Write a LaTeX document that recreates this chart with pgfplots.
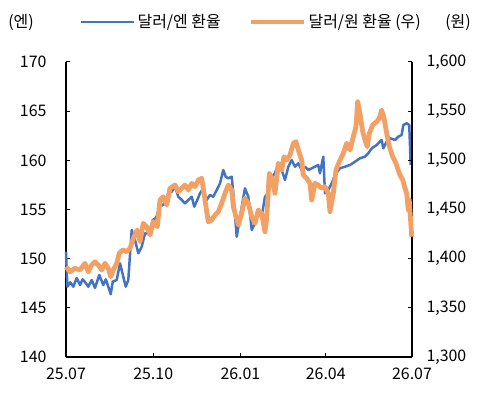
\documentclass[border=0pt]{standalone}
\usepackage{fontspec}
\setmainfont{Noto Sans CJK KR}
\usepackage{pgfplots}
\pgfplotsset{compat=1.18}
\definecolor{usdjpy}{HTML}{4472C4}
\definecolor{usdkrw}{HTML}{F2A064}

% x = days since 2025-07-01
\pgfplotstableread{
d v
0 150.71
1.4 147.15
4.5 147.6
7.7 147.15
11.3 148.03
14.8 147.32
17.5 147.9
20.0 147.63
23.5 147.15
27.1 147.83
30.6 147.02
35.1 148.34
39.3 147.32
42.0 147.9
44.6 147.15
47.2 146.38
49.3 147.66
53.5 147.83
57.0 149.53
60.4 148.17
63.0 147.15
65.7 147.83
69.3 152.92
72.8 151.90
76.3 150.55
79.9 151.22
83.3 152.58
87.9 152.58
91.5 153.93
94.9 154.14
99.2 155.29
104.4 155.63
107.9 156.65
111.5 156.81
115.0 157.32
118.5 156.30
122.1 155.97
125.5 155.63
129.0 155.97
132.6 156.30
135.3 155.29
138.5 155.97
141.4 156.65
144.8 157.16
148.4 155.97
151.9 156.48
155.4 156.30
159.0 156.98
162.5 157.66
165.9 159.02
168.4 158.34
171.2 158.17
174.8 158.34
176.5 156.65
180.1 152.23
183.6 154.27
188.8 157.16
192.3 156.30
195.9 152.92
199.4 153.60
202.9 154.61
206.4 154.27
209.9 156.30
213.4 156.65
217.0 158.34
220.5 158.68
224.0 159.70
227.5 159.02
231.0 158.00
234.5 159.35
238.1 160.03
241.6 159.35
245.1 159.70
248.6 159.02
252.1 159.35
255.6 159.02
259.2 159.19
262.7 159.35
266.1 159.53
267.9 158.68
271.4 160.37
273.2 156.65
276.7 156.98
280.3 157.66
283.8 158.51
289.0 159.19
294.3 159.35
299.6 159.53
304.9 159.86
310.1 160.21
315.4 160.37
318.9 160.72
322.5 161.22
327.8 161.56
333.0 162.07
334.7 161.22
338.3 161.90
341.8 162.24
347.1 162.07
350.5 162.40
354.1 162.58
355.8 163.59
359.4 163.77
362.1 163.59
363.6 159.53
}\usdjpy

\pgfplotstableread{
d v
0 1391.8
4.2 1386.7
9.5 1390.2
14.8 1388.5
20.0 1395.3
23.5 1386.7
27.1 1393.6
30.6 1396.9
34.1 1393.6
37.7 1388.5
41.1 1395.3
44.6 1390.2
47.2 1381.7
49.9 1388.5
53.5 1395.3
56.2 1405.5
59.8 1408.8
64.0 1407.1
67.5 1410.5
71.7 1422.3
75.2 1429.2
78.1 1417.3
81.5 1436.0
85.1 1432.5
88.6 1424.1
92.1 1437.6
96.3 1432.5
99.2 1459.7
102.6 1463.0
106.2 1454.6
109.7 1471.6
115.0 1474.9
118.5 1468.1
122.1 1471.6
125.5 1474.9
129.0 1469.8
132.6 1476.6
136.1 1473.2
139.6 1480.0
143.2 1481.7
146.6 1459.7
150.1 1437.6
153.7 1439.3
157.2 1444.4
160.7 1447.8
164.2 1456.3
167.7 1466.5
171.2 1474.9
174.8 1469.8
176.5 1452.9
181.8 1434.2
185.3 1446.1
188.8 1461.4
192.3 1456.3
195.9 1442.7
199.4 1436.0
202.9 1449.5
206.4 1446.1
209.9 1427.4
211.7 1441.1
214.5 1486.8
217.0 1481.7
220.5 1466.5
224.0 1497.0
227.5 1490.2
230.0 1503.7
232.8 1500.3
236.3 1505.4
239.8 1517.3
242.6 1519.0
245.1 1510.5
248.6 1500.3
250.3 1485.1
253.9 1481.7
257.4 1476.6
259.2 1459.7
262.7 1476.6
266.1 1474.9
269.7 1471.6
273.2 1473.2
276.7 1466.5
278.5 1447.8
282.0 1466.5
284.8 1490.2
288.3 1498.6
292.5 1507.2
296.1 1517.3
299.6 1510.5
303.1 1524.0
305.9 1534.2
307.7 1559.6
310.1 1547.8
313.0 1529.1
315.4 1520.7
317.8 1513.9
320.0 1527.5
323.5 1535.9
327.8 1539.3
330.5 1542.7
333.0 1551.2
335.5 1542.7
338.3 1527.5
341.1 1513.9
344.6 1503.7
348.1 1497.0
351.6 1486.8
355.2 1480.0
357.6 1471.6
359.4 1466.5
361.1 1449.5
362.1 1459.7
364.7 1422.3
}\usdkrw

\begin{document}
\begin{tikzpicture}
\useasboundingbox (-66bp,-44bp) rectangle (416bp,357bp);
\pgfplotsset{
  every axis/.append style={
    scale only axis, width=346bp, height=295bp,
    at={(0,0)}, anchor=south west,
    xmin=0, xmax=365,
    font=\fontsize{16}{18}\selectfont,
    /pgf/number format/assume math mode=true,
    tick align=inside, major tick length=4bp,
    axis line style={line width=1.3bp, black},
    tick style={line width=1bp, black},
    clip=false,
  },
}
\begin{axis}[
  axis x line*=bottom, axis y line*=left,
  ymin=140, ymax=170, ytick={140,145,...,170},
  xtick={0,92,184,274,365},
  xticklabels={25.07,25.10,26.01,26.04,26.07},
  yticklabel style={xshift=-16bp},
  xticklabel style={yshift=-7bp},
]
\addplot[usdjpy, line width=2.5bp, line join=round] table[x=d, y=v] {\usdjpy};
\end{axis}
\begin{axis}[
  axis x line=none, axis y line*=right,
  ymin=1300, ymax=1600, ytick={1300,1350,...,1600},
  /pgf/number format/1000 sep={,},
  yticklabel style={xshift=11bp},
  legend columns=2,
  legend style={at={(0.536,1)}, anchor=center, yshift=40bp, draw=none, fill=none,
    font=\fontsize{16}{18}\selectfont, inner sep=0pt,
    /tikz/every even column/.append style={column sep=26bp}},
  legend image code/.code={\draw[#1] (0bp,0bp) -- (53bp,0bp);},
]
\addlegendimage{usdjpy, line width=2.5bp}
\addlegendentry{달러/엔 환율}
\addplot[usdkrw, line width=4.8bp, line join=round] table[x=d, y=v] {\usdkrw};
\addlegendentry{달러/원 환율 (우)}
\end{axis}
\node[font=\fontsize{16}{18}\selectfont] at (-45bp,335bp) {(엔)};
\node[font=\fontsize{16}{18}\selectfont] at (392bp,335bp) {(원)};
\end{tikzpicture}
\end{document}
